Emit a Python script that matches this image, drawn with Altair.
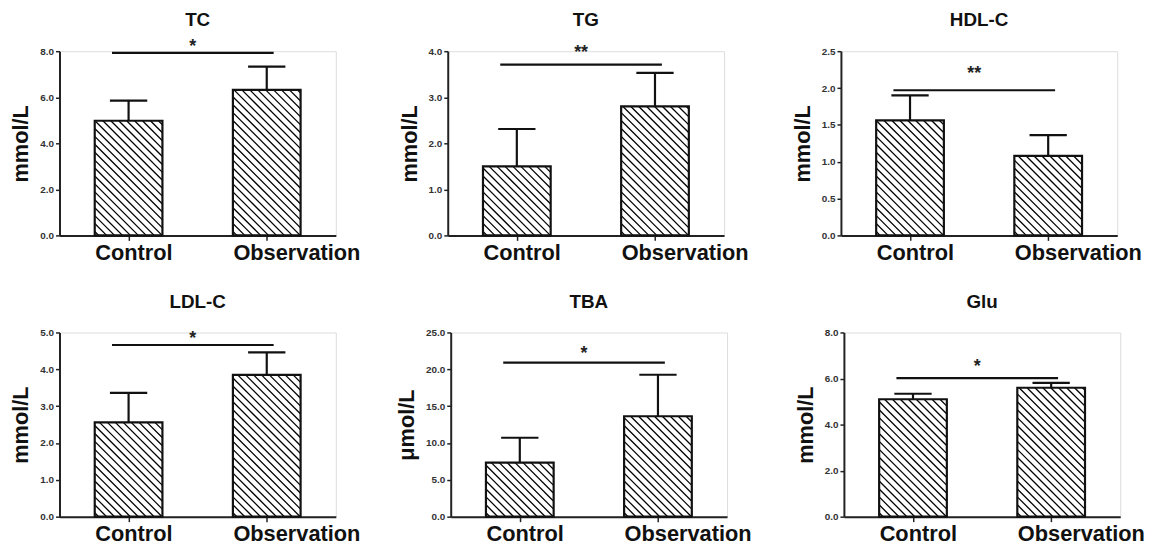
import altair as alt
import pandas as pd

# ---------------- data ----------------
groups = ["Control", "Observation"]
titles = ["TC", "TG", "HDL-C", "LDL-C", "TBA", "Glu"]
units = ["mmol/L", "mmol/L", "mmol/L", "mmol/L", "μmol/L", "mmol/L"]

tc_mean = [4.98, 6.32]
tc_sd = [0.87, 1.01]
tg_mean = [1.50, 2.80]
tg_sd = [0.81, 0.73]
hdl_mean = [1.56, 1.08]
hdl_sd = [0.34, 0.28]
ldl_mean = [2.56, 3.85]
ldl_sd = [0.80, 0.61]
tba_mean = [7.34, 13.63]
tba_sd = [3.37, 5.63]
glu_mean = [5.10, 5.60]
glu_sd = [0.24, 0.21]

sig_levels = [7.93, 3.71, 1.97, 4.66, 20.9, 6.02]
sig_labels = ["*", "**", "**", "*", "*", "*"]

tick_values = [
    [0.0, 2.0, 4.0, 6.0, 8.0],
    [0.0, 1.0, 2.0, 3.0, 4.0],
    [0.0, 0.5, 1.0, 1.5, 2.0, 2.5],
    [0.0, 1.0, 2.0, 3.0, 4.0, 5.0],
    [0.0, 5.0, 10.0, 15.0, 20.0, 25.0],
    [0.0, 2.0, 4.0, 6.0, 8.0],
]

means = [tc_mean, tg_mean, hdl_mean, ldl_mean, tba_mean, glu_mean]
sds = [tc_sd, tg_sd, hdl_sd, ldl_sd, tba_sd, glu_sd]

# ---------------- styling ----------------
FONT = "Liberation Sans"
W, H = 279, 186
BAR_HALF = 0.245      # half bar width in x units (x domain 0..2)
CAP_HALF = 0.135
HATCH_PX = 8          # horizontal spacing of hatch lines in px
SIG_X0, SIG_X1 = 0.38, 1.55
star_gap = [6, 12, 16, 6, 9, 11]
TITLE_Y = -31         # px above the plot top (title centre)

label_expr = "datum.value < 1 ? '%s' : '%s'" % (groups[0], groups[1])


def panel(i):
    ymax = tick_values[i][-1]
    px_x = W / 2.0
    px_y = H / ymax
    bars = pd.DataFrame({"group": groups, "pos": [0.5, 1.5],
                         "mean": means[i], "sd": sds[i]})
    bars["lo"] = bars["pos"] - BAR_HALF
    bars["hi"] = bars["pos"] + BAR_HALF
    bars["base"] = 0.0
    bars["top"] = bars["mean"] + bars["sd"]
    bars["cl"] = bars["pos"] - CAP_HALF
    bars["cr"] = bars["pos"] + CAP_HALF

    rows = []
    for _, b in bars.iterrows():
        w = (b["hi"] - b["lo"]) * px_x
        h = b["mean"] * px_y
        k = HATCH_PX / 2.0
        while k < w + h:
            u1 = max(0.0, k - h)
            u2 = min(w, k)
            if u2 > u1:
                rows.append({"hx": b["lo"] + u1 / px_x, "hy": (k - u1) / px_y,
                             "hx2": b["lo"] + u2 / px_x, "hy2": (k - u2) / px_y})
            k += HATCH_PX
    hatch = pd.DataFrame(rows)

    sig = pd.DataFrame({"sx": [SIG_X0], "sx2": [SIG_X1],
                        "smid": [(SIG_X0 + SIG_X1) / 2], "sy": [sig_levels[i]],
                        "lab": [sig_labels[i]]})
    ttl = pd.DataFrame({"t": [titles[i]]})

    xscale = alt.Scale(domain=[0, 2], nice=False, zero=False)
    yscale = alt.Scale(domain=[0, ymax], nice=False, zero=True)
    xaxis = alt.Axis(values=[0.5, 1.5], labelExpr=label_expr, title=None,
                     grid=False, labelAlign="left", labelOffset=-BAR_HALF * px_x,
                     labelFontSize=22, labelFont=FONT, labelFontWeight="bold",
                     labelColor="#111", labelPadding=2, tickSize=5, tickWidth=1.5,
                     tickColor="#222", domainColor="#222", domainWidth=2,
                     labelOverlap=False, labelFlush=False, labelBound=False)
    yaxis = alt.Axis(values=tick_values[i], format=".1f", title=units[i],
                     grid=False, labelFontSize=10, labelFont=FONT,
                     labelFontWeight="bold", labelColor="#333", tickSize=4,
                     tickWidth=1.5, tickColor="#222", domainColor="#222",
                     domainWidth=2, titleFontSize=22, titleFont=FONT,
                     titleFontWeight="bold", titleColor="#111", titlePadding=7,
                     labelPadding=2)

    def X(f):
        return alt.X(f, type="quantitative", scale=xscale, axis=xaxis)

    def Y(f):
        return alt.Y(f, type="quantitative", scale=yscale, axis=yaxis)

    base_bar = alt.Chart(bars)
    fill = base_bar.mark_rect(fill="white").encode(
        x=X("lo"), x2="hi", y=Y("mean"), y2="base")
    hatch_layer = alt.Chart(hatch).mark_rule(color="#000", strokeWidth=1.3).encode(
        x=X("hx"), x2="hx2", y=Y("hy"), y2="hy2")
    outline = base_bar.mark_rect(filled=False, stroke="#111", strokeWidth=2.2).encode(
        x=X("lo"), x2="hi", y=Y("mean"), y2="base")
    stem = base_bar.mark_rule(color="#111", strokeWidth=2.2).encode(
        x=X("pos"), y=Y("mean"), y2="top")
    cap = base_bar.mark_rule(color="#111", strokeWidth=2.2).encode(
        x=X("cl"), x2="cr", y=Y("top"))
    sig_line = alt.Chart(sig).mark_rule(color="#111", strokeWidth=2.2).encode(
        x=X("sx"), x2="sx2", y=Y("sy"))
    sig_text = alt.Chart(sig).mark_text(
        font=FONT, fontSize=18, fontWeight="bold", color="#222",
        baseline="middle", dy=-star_gap[i]).encode(
        x=X("smid"), y=Y("sy"), text="lab:N")
    title_text = alt.Chart(ttl).mark_text(
        font=FONT, fontSize=19, fontWeight="bold", color="#111",
        baseline="middle", align="center").encode(
        x=alt.value(W / 2), y=alt.value(TITLE_Y), text="t:N")

    return alt.layer(fill, hatch_layer, outline, stem, cap, sig_line, sig_text,
                     title_text).properties(width=W, height=H)


row1 = alt.hconcat(alt.hconcat(panel(0), panel(1), spacing=37), panel(2), spacing=42)
row2 = alt.hconcat(alt.hconcat(panel(3), panel(4), spacing=35), panel(5), spacing=42)
chart = alt.vconcat(row1, row2, spacing=28).properties(
    padding={"left": 1, "top": 0, "right": 0, "bottom": 0}
).configure_view(stroke=None).configure(font=FONT)

chart.save("out.html", embed_options={"renderer": "svg", "actions": False})
